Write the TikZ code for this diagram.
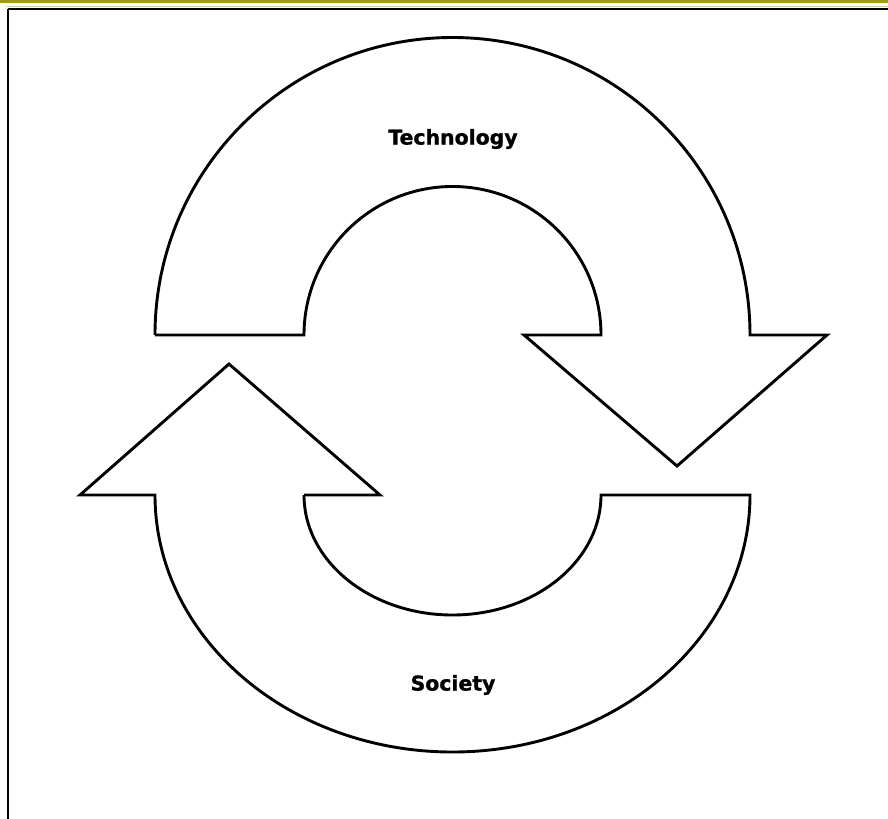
\documentclass[tikz,border=0pt]{standalone}
\usepackage{fontspec}
\newfontfamily\labelfont[BoldFeatures={FakeBold=1.2}]{DejaVu Sans}
\definecolor{barolive}{RGB}{158,156,20}
\tikzset{
    cyclearrow/.style = {
        draw            = black,
        fill            = white,
        line width      = 2.9bp,
        line join       = miter,
    },
    cyclelabel/.style = {
        font            = \labelfont\bfseries\fontsize{20.5}{23}\selectfont,
        inner sep       = 0pt,
    }
}

\begin{document}
\begin{tikzpicture}[x=1bp,y=-1bp]
  \useasboundingbox (0,0) rectangle (888,819);
  % Fensterrahmen
  \fill[barolive] (0,0) rectangle (888,2.6);
  \draw[gray!40,line width=1.2bp] (6,6.4) -- (888,6.4);
  \draw[black,line width=2bp] (7.5,8.6) -- (888,8.6);
  \draw[black,line width=2bp] (7.5,8.6) -- (7.5,819);

  % Technology
  \draw[cyclearrow] (155,335) -- (304,335)
    arc[start angle=180, end angle=360, radius=148.5]
    -- (524,335) -- (677,466) -- (827,335) -- (750,335)
    arc[start angle=360, end angle=180, radius=297.5] -- cycle;
  \node[cyclelabel] (Technology) at (453,139) {Technology};

  % Society
  \draw[cyclearrow] (304,495) -- (380,495) -- (229,364) -- (80,495) -- (155,495)
    arc[start angle=180, end angle=0, x radius=297.5, y radius=257]
    -- (601,495)
    arc[start angle=0, end angle=180, x radius=148.5, y radius=120] -- cycle;
  \node[cyclelabel] (Society) at (453,685) {Society};

\end{tikzpicture}
\end{document}
